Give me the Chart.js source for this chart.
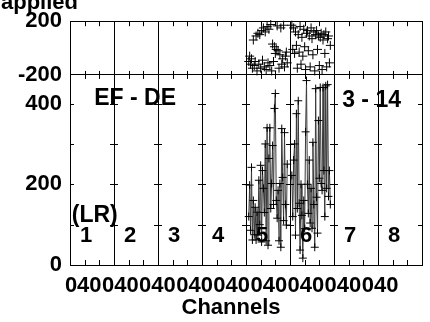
<!DOCTYPE html>
<html>
<head>
<meta charset="utf-8">
<script src="https://cdn.jsdelivr.net/npm/chart.js@4.4.1/dist/chart.umd.min.js"></script>
<style>
  html, body { margin: 0; padding: 0; background: #fff; }
  canvas { display: block; }
</style>
</head>
<body>
<canvas id="fitChart" width="430" height="322"></canvas>
<script>
// 8 channel blocks side by side, 48 channels each
const columns = ['1', '2', '3', '4', '5', '6', '7', '8'];
const chanPerCol = 48;

// counts in block 5 (first channel 3) and block 6 (first channel 2)
const col5Start = 3;
const col5Counts = [120, 198, 86, 242, 62, 160, 75, 143, 62, 131, 74, 210, 100, 247, 57, 234, 190, 130, 300, 60,
  340, 49, 264, 340, 140, 202, 296, 150, 388, 425, 160, 116, 185, 60, 202, 44, 338, 217, 110, 328, 150, 99, 250];
const col6Start = 2;
const col6Counts = [222, 120, 260, 300, 74, 375, 140, 407, 153, 37, 200, 123, 17, 160, 90, 330, 457, 200, 128, 260,
  104, 190, 91, 304, 150, 44, 437, 168, 79, 358, 215, 440, 202, 185, 440, 234, 120, 444, 190, 447, 170, 234, 150];

// residuals shown in the top strip, same channels
const col5Resid = [-100, -60, -120, -80, -150, 60, -130, -100, 90, -170, 110, -120, 100, -150, 130, -90, 150, -140,
  120, -160, 160, -110, 140, -130, 175, -170, 30, -100, 10, -40, -10, 165, -20, -150, -50, 150, -120, -80, 170, -140, -60, -30, -110];
const col6Resid = [170, -10, 150, -40, 120, 20, -150, 100, -30, 160, -120, 80, -60, 140, 10, -160, 110, 130, -20, 90,
  -140, 150, 70, -50, 120, -170, 100, 130, -10, 90, -130, 80, 110, -160, 60, 100, -40, 120, -140, 70, 90, -110, 20];

// tick labels as printed under the axis
const xTickValues = [1.1, 21.1, 41.6, 61.6, 82, 102.1, 122.5, 142.5, 163, 183, 203.5, 223.5, 243.9, 263.9, 284.4, 304.4, 324.9, 344.9];
const xTickText = ['0', '40', '0', '40', '0', '40', '0', '40', '0', '40', '0', '40', '0', '40', '0', '40', '0', '40'];
const yTopTicks = [-200, 0, 200];
const yBotTicks = [0, 200, 400];
const yBotMinor = [100, 200, 300, 400];

const FONT = '"Liberation Sans", Arial, Helvetica, sans-serif';

function toPoints(colIdx, start, vals) {
  return vals.map((v, i) => ({ x: colIdx * chanPerCol + start + i, y: v }));
}

// frame ticks, panel labels and the odd bits of text
const decor = {
  id: 'decor',
  afterDraw(chart) {
    const c = chart.ctx;
    const x = chart.scales.x, yt = chart.scales.yTop, yb = chart.scales.yBot;
    const L = chart.chartArea.left, R = chart.chartArea.right;
    c.save();
    c.strokeStyle = '#000';
    c.lineWidth = 1;
    c.beginPath();
    // small ticks along top, middle and bottom edges
    for (let v = 0; v <= columns.length * chanPerCol; v += 16) {
      if (v % chanPerCol === 0) continue;
      const px = Math.round(x.getPixelForValue(v)) + 0.5;
      c.moveTo(px, yt.top); c.lineTo(px, yt.top + 5);
      c.moveTo(px, yt.bottom - 4); c.lineTo(px, yt.bottom + 4);
      c.moveTo(px, yb.bottom); c.lineTo(px, yb.bottom - 5);
    }
    // y ticks repeated at every block boundary
    for (let k = 0; k <= columns.length; k++) {
      const bx = x.getPixelForValue(k * chanPerCol);
      yBotMinor.forEach(v => {
        const py = Math.round(yb.getPixelForValue(v)) + 0.5;
        c.moveTo(Math.max(L, bx - 4), py); c.lineTo(Math.min(R, bx + 4), py);
      });
    }
    c.stroke();

    c.fillStyle = '#000';
    c.textAlign = 'center';
    c.textBaseline = 'middle';
    c.font = 'bold 23px ' + FONT;
    c.fillText('EF - DE', x.getPixelForValue(71), yb.getPixelForValue(412));
    c.fillText('3 - 14', x.getPixelForValue(329), yb.getPixelForValue(408));
    c.fillText('(LR)', x.getPixelForValue(27), yb.getPixelForValue(123));
    c.font = 'bold 22px ' + FONT;
    columns.forEach((lab, k) => {
      c.fillText(lab, x.getPixelForValue(k * chanPerCol + 17.5), yb.getPixelForValue(71));
    });
    c.fillText('Channels', 231, 308);
    c.textAlign = 'right';
    c.textBaseline = 'alphabetic';
    c.fillText('applied', 78, 9);
    c.restore();
  }
};

const lineStyle = {
  type: 'line',
  xAxisID: 'x',
  yAxisID: 'yBot',
  borderColor: '#3a3a3a',
  borderWidth: 1,
  pointStyle: 'cross',
  pointRadius: 4,
  pointBorderColor: '#000',
  pointBorderWidth: 1,
  tension: 0,
  clip: false
};
const residStyle = {
  type: 'line',
  xAxisID: 'x',
  yAxisID: 'yTop',
  showLine: false,
  pointStyle: 'cross',
  pointRadius: 4.5,
  pointBorderColor: '#000',
  pointBorderWidth: 1,
  clip: false
};

const tickFont = { family: FONT, size: 22, weight: 'bold' };

new Chart(document.getElementById('fitChart').getContext('2d'), {
  type: 'line',
  data: {
    datasets: [
      { ...lineStyle, data: toPoints(4, col5Start, col5Counts) },
      { ...lineStyle, data: toPoints(5, col6Start, col6Counts) },
      { ...residStyle, data: toPoints(4, col5Start, col5Resid) },
      { ...residStyle, data: toPoints(5, col6Start, col6Resid) }
    ]
  },
  options: {
    responsive: false,
    animation: false,
    devicePixelRatio: 1,
    layout: { padding: { top: 20, right: 8, left: 0, bottom: 0 } },
    plugins: { legend: { display: false }, tooltip: { enabled: false } },
    scales: {
      x: {
        type: 'linear',
        position: 'bottom',
        min: 0,
        max: columns.length * chanPerCol,
        grid: { display: false, drawTicks: false },
        border: { color: '#000', width: 1 },
        ticks: {
          color: '#000',
          font: tickFont,
          padding: 8,
          autoSkip: false,
          maxRotation: 0,
          callback: (v, i) => xTickText[i]
        },
        afterBuildTicks: s => { s.ticks = xTickValues.map(v => ({ value: v })); },
        afterFit: s => { s.height = 57; }
      },
      xGrid: {
        type: 'linear',
        position: 'top',
        min: 0,
        max: columns.length * chanPerCol,
        ticks: { display: false, stepSize: chanPerCol },
        grid: { color: '#000', lineWidth: 1, drawTicks: false },
        border: { color: '#000', width: 1 },
        afterFit: s => { s.height = 0; }
      },
      yTop: {
        type: 'linear',
        position: 'left',
        stack: 'panels',
        stackWeight: 54,
        weight: 2,
        min: -200,
        max: 200,
        grid: { color: '#000', lineWidth: 1, drawTicks: false },
        border: { color: '#000', width: 1 },
        ticks: { color: '#000', font: tickFont, padding: 8, callback: v => (v === 0 ? '' : v) },
        afterBuildTicks: s => { s.ticks = yTopTicks.map(v => ({ value: v })); },
        afterFit: s => { s.width = 70; }
      },
      yBot: {
        type: 'linear',
        position: 'left',
        stack: 'panels',
        stackWeight: 191,
        weight: 1,
        min: 0,
        max: 471,
        grid: { display: false, drawTicks: false },
        border: { color: '#000', width: 1 },
        ticks: { color: '#000', font: tickFont, padding: 8 },
        afterBuildTicks: s => { s.ticks = yBotTicks.map(v => ({ value: v })); },
        afterFit: s => { s.width = 70; }
      }
    }
  },
  plugins: [decor]
});
</script>
</body>
</html>
